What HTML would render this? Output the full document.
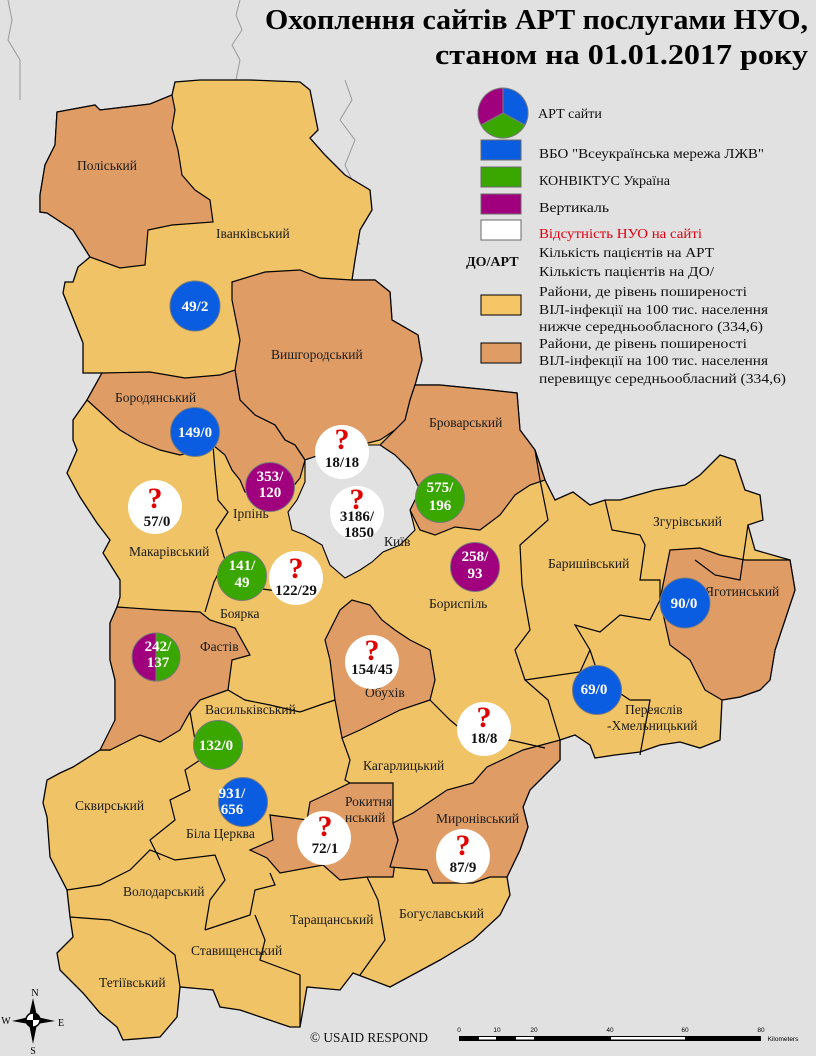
<!DOCTYPE html>
<html><head><meta charset="utf-8"><style>
html,body{margin:0;padding:0;background:#e1e1e1;}
svg{display:block;}
.d{font-family:"Liberation Serif",serif;font-size:13.5px;fill:#1a1a1a;}
.lg{font-family:"Liberation Serif",serif;font-size:14px;fill:#111;}
.cw{font-family:"Liberation Serif",serif;font-size:15px;font-weight:bold;fill:#fff;text-anchor:middle;}
.cb{font-family:"Liberation Serif",serif;font-size:15px;font-weight:bold;fill:#111;text-anchor:middle;}
.q{font-family:"Liberation Serif",serif;font-size:30px;font-weight:bold;fill:#e00000;text-anchor:middle;}
.b{fill:none;stroke:#000;stroke-width:1.2;}
</style></head><body>
<svg width="816" height="1056" viewBox="0 0 816 1056" xmlns="http://www.w3.org/2000/svg">
<rect width="816" height="1056" fill="#e1e1e1"/>
<polyline points="8,0 12,20 8,40 20,60 20,100" fill="none" stroke="#999" stroke-width="1"/>
<polyline points="240,0 236,15 242,30 232,45 240,60 236,80" fill="none" stroke="#999" stroke-width="1"/>
<polyline points="345,80 352,100 340,120 355,140 345,165 352,180 340,200 360,245" fill="none" stroke="#999" stroke-width="1"/>
<polygon fill="#f0c466" stroke="#000" stroke-width="1.3" points="40,195 45,165 55,145 57,112 95,105 100,110 150,104 172,95 175,82 200,80 250,80 300,82 310,90 318,130 310,138 325,155 345,175 370,190 372,210 360,230 355,260 352,280 375,280 390,292 392,320 418,335 422,360 415,385 440,385 490,390 517,393 520,430 535,450 545,480 555,500 573,492 590,505 605,500 620,500 655,490 685,485 700,475 720,455 735,460 745,490 760,495 763,520 748,525 755,550 790,560 795,590 785,620 775,650 770,680 760,690 740,697 722,700 720,740 700,748 680,742 660,745 640,752 615,755 595,758 590,745 575,735 560,740 560,760 530,790 523,807 528,827 520,850 507,877 510,895 500,915 473,940 440,960 390,987 353,973 340,990 307,987 300,1027 290,1027 240,1010 220,1007 213,990 180,987 177,1017 160,1037 123,1040 117,1027 100,1013 83,993 60,970 57,953 73,937 70,917 67,890 50,857 47,817 43,803 47,780 60,773 73,767 100,750 110,750 115,720 115,680 110,660 110,623 117,607 120,597 120,580 103,553 110,540 97,523 80,497 67,473 77,450 73,440 73,420 87,400 102,373 83,373 83,343 63,293 65,282 73,282 78,267 90,257 73,230 47,213 40,212"/>
<g fill="#df9d65" stroke="#000" stroke-width="1.2">
<polygon points="40,212 47,213 73,230 90,257 120,268 145,265 148,230 172,225 213,222 210,200 195,190 182,175 178,150 172,128 175,110 172,95 150,104 100,110 95,105 57,112 55,145 45,165 40,195"/>
<polygon points="232,282 265,272 300,270 320,278 352,280 375,280 390,292 392,320 418,335 422,360 415,385 410,400 405,420 395,430 380,440 360,445 340,460 320,455 305,460 295,445 285,440 275,425 255,415 240,400 235,370 240,340 232,300"/>
<polygon points="102,373 150,372 185,378 220,375 235,370 240,400 255,415 275,425 285,440 295,445 305,460 300,478 292,488 280,493 262,497 245,492 240,480 232,470 225,455 213,445 200,450 180,455 160,450 140,442 120,430 87,400"/>
<polygon points="415,385 440,385 490,390 517,393 520,430 535,450 545,480 530,485 515,495 500,515 480,530 455,527 435,535 420,530 410,510 420,490 410,470 395,455 380,445 395,430 405,420 410,400"/>
<polygon points="117,607 160,610 200,612 210,620 235,628 250,655 232,660 228,690 200,700 190,712 180,730 160,742 140,735 110,750 100,750 115,720 115,680 110,660 110,623"/>
<polygon points="340,610 352,600 370,605 382,620 395,630 410,640 430,650 435,680 430,700 400,710 380,720 360,730 342,738 335,700 330,660 325,640"/>
<polygon points="670,550 700,548 720,555 745,560 790,560 795,590 785,620 775,650 770,680 760,690 740,697 722,700 705,690 690,660 670,645 660,600"/>
<polygon points="270,815 307,820 310,802 325,795 350,783 393,783 393,823 398,840 393,877 367,877 340,880 323,865 280,873 267,858 250,850 273,840"/>
<polygon points="393,823 413,813 447,790 473,783 487,767 523,750 560,740 560,760 530,790 523,807 528,827 520,850 507,877 490,877 473,883 433,883 427,870 390,867 398,840"/>
</g>
<polygon fill="#e1e1e1" stroke="#000" stroke-width="1.1" points="305,460 320,455 340,462 360,445 380,445 395,455 410,470 420,490 410,510 415,530 400,545 383,552 372,562 360,570 345,578 330,565 322,545 305,535 292,530 288,512 297,500 305,482"/>
<g class="b">
<polyline points="213,445 215,470 218,500 228,512 216,530 225,560 214,582 205,612"/>
<polyline points="228,560 255,588 285,592 300,600 300,560"/>
<polyline points="228,690 245,700 270,705 300,712 320,705 335,700"/>
<polyline points="190,712 195,740 200,760 185,770 190,790 170,800 175,820 150,840 160,860"/>
<polyline points="67,890 100,885 130,870 150,850 175,860 215,855 225,880 210,900 205,930"/>
<polyline points="70,917 110,920 150,935 175,955 180,987"/>
<polyline points="205,930 250,915 255,890 275,885 270,873"/>
<polyline points="255,915 265,940 260,960 300,975 300,1027"/>
<polyline points="367,877 378,900 385,940 360,975"/>
<polyline points="342,738 350,760 345,780 350,783"/>
<polyline points="430,700 450,720 480,745 510,740 545,748"/>
<polyline points="535,450 540,480 548,520 520,545 522,585 530,630 515,650 525,680 548,700 560,740"/>
<polyline points="525,680 580,672 590,650 575,625 600,632 620,615 650,620 660,600 660,580 640,580 645,545 640,535 612,530 605,500"/>
<polyline points="695,560 715,575 740,580 748,525"/>
<polyline points="590,650 600,680 630,700 650,700 640,755"/>
</g>
<g class="d">
<text x="77" y="170">Поліський</text>
<text x="216" y="238">Іванківський</text>
<text x="271" y="359">Вишгородський</text>
<text x="115" y="402">Бородянський</text>
<text x="429" y="427">Броварський</text>
<text x="233" y="518">Ірпінь</text>
<text x="129" y="556">Макарівський</text>
<text x="384" y="546">Київ</text>
<text x="548" y="568">Баришівський</text>
<text x="653" y="526">Згурівський</text>
<text x="705" y="596">Яготинський</text>
<text x="429" y="608">Бориспіль</text>
<text x="220" y="618">Боярка</text>
<text x="200" y="651">Фастів</text>
<text x="365" y="697">Обухів</text>
<text x="205" y="714">Васильківський</text>
<text x="625" y="714">Переяслів</text>
<text x="607" y="730">-Хмельницький</text>
<text x="363" y="770">Кагарлицький</text>
<text x="345" y="806">Рокитня</text>
<text x="345" y="822">нський</text>
<text x="436" y="823">Миронівський</text>
<text x="75" y="810">Сквирський</text>
<text x="186" y="838">Біла Церква</text>
<text x="123" y="896">Володарський</text>
<text x="290" y="924">Таращанський</text>
<text x="399" y="918">Богуславський</text>
<text x="191" y="955">Ставищенський</text>
<text x="99" y="987">Тетіївський</text>
</g>
<g stroke="#7a7a7a" stroke-width="1">
<circle cx="195" cy="306" r="25" fill="#0a5ce0"/>
<circle cx="195" cy="432" r="24.5" fill="#0a5ce0"/>
<circle cx="270" cy="487" r="24.5" fill="#a0007e"/>
<circle cx="440" cy="498" r="24.5" fill="#3aa600"/>
<circle cx="475" cy="567" r="24.5" fill="#a0007e"/>
<circle cx="242" cy="576" r="24.5" fill="#3aa600"/>
<circle cx="685" cy="603" r="25" fill="#0a5ce0"/>
<circle cx="597" cy="690" r="24.5" fill="#0a5ce0"/>
<circle cx="218" cy="745" r="24.5" fill="#3aa600"/>
<circle cx="243" cy="802" r="24.5" fill="#0a5ce0"/>
<path d="M156,633 A24,24 0 0 0 156,681 Z" fill="#a0007e"/>
<path d="M156,633 A24,24 0 0 1 156,681 Z" fill="#3aa600"/>
</g>
<g fill="#fff">
<circle cx="155" cy="507" r="27"/>
<circle cx="342" cy="452" r="27"/>
<circle cx="357" cy="513" r="27"/>
<circle cx="296" cy="578" r="27"/>
<circle cx="372" cy="662" r="27"/>
<circle cx="484" cy="729" r="27"/>
<circle cx="324" cy="838" r="27"/>
<circle cx="463" cy="856" r="27"/>
</g>
<text class="cw" x="195" y="311">49/2</text>
<text class="cw" x="195" y="437">149/0</text>
<text class="cw" x="270" y="481">353/</text><text class="cw" x="270" y="497">120</text>
<text class="cw" x="440" y="492">575/</text><text class="cw" x="440" y="510">196</text>
<text class="cw" x="475" y="561">258/</text><text class="cw" x="475" y="578">93</text>
<text class="cw" x="242" y="570">141/</text><text class="cw" x="242" y="587">49</text>
<text class="cw" x="158" y="651">242/</text><text class="cw" x="158" y="667">137</text>
<text class="cw" x="684" y="608">90/0</text>
<text class="cw" x="594" y="694">69/0</text>
<text class="cw" x="216" y="750">132/0</text>
<text class="cw" x="232" y="798">931/</text><text class="cw" x="232" y="814">656</text>
<text class="q" x="155" y="508">?</text><text class="cb" x="157" y="526">57/0</text>
<text class="q" x="342" y="449">?</text><text class="cb" x="342" y="467">18/18</text>
<text class="q" x="357" y="509">?</text><text class="cb" x="357" y="521">3186/</text><text class="cb" x="359" y="537">1850</text>
<text class="q" x="296" y="578">?</text><text class="cb" x="296" y="595">122/29</text>
<text class="q" x="372" y="660">?</text><text class="cb" x="372" y="674">154/45</text>
<text class="q" x="484" y="727">?</text><text class="cb" x="484" y="743">18/8</text>
<text class="q" x="325" y="836">?</text><text class="cb" x="325" y="853">72/1</text>
<text class="q" x="463" y="855">?</text><text class="cb" x="463" y="872">87/9</text>
<text x="808" y="29" text-anchor="end" font-family="Liberation Serif,serif" font-weight="bold" font-size="29" textLength="543" lengthAdjust="spacingAndGlyphs">Охоплення сайтів АРТ послугами НУО,</text>
<text x="808" y="64" text-anchor="end" font-family="Liberation Serif,serif" font-weight="bold" font-size="29" textLength="373" lengthAdjust="spacingAndGlyphs">станом на 01.01.2017 року</text>
<g stroke="#7a7a7a" stroke-width="1">
<path d="M503,113 L503,88 A25,25 0 0 1 525,125 Z" fill="#0a5ce0"/>
<path d="M503,113 L525,125 A25,25 0 0 1 481,125 Z" fill="#3aa600"/>
<path d="M503,113 L481,125 A25,25 0 0 1 503,88 Z" fill="#a0007e"/>
</g>
<g stroke="#6a6a6a" stroke-width="1">
<rect x="481" y="140" width="40" height="20" fill="#0a5ce0"/>
<rect x="481" y="167" width="40" height="20" fill="#3aa600"/>
<rect x="481" y="194" width="40" height="20" fill="#a0007e"/>
<rect x="481" y="220" width="40" height="20" fill="#fff"/>
</g>
<rect x="481" y="295" width="40" height="20" fill="#f5c566" stroke="#000"/>
<rect x="481" y="343" width="40" height="20" fill="#df9d65" stroke="#000"/>
<g class="lg">
<text x="538" y="118">АРТ сайти</text>
<text x="539" y="158" textLength="225" lengthAdjust="spacingAndGlyphs">ВБО "Всеукраїнська мережа ЛЖВ"</text>
<text x="539" y="185" textLength="131" lengthAdjust="spacingAndGlyphs">КОНВІКТУС Україна</text>
<text x="539" y="212" textLength="70" lengthAdjust="spacingAndGlyphs">Вертикаль</text>
<text x="539" y="238" style="fill:#e00010" textLength="163" lengthAdjust="spacingAndGlyphs">Відсутність НУО на сайті</text>
<text x="539" y="257" textLength="175" lengthAdjust="spacingAndGlyphs">Кількість пацієнтів на АРТ</text>
<text x="539" y="276" textLength="175" lengthAdjust="spacingAndGlyphs">Кількість пацієнтів на ДО/</text>
<text x="539" y="296" textLength="208" lengthAdjust="spacingAndGlyphs">Райони, де рівень поширеності</text>
<text x="539" y="314" textLength="229" lengthAdjust="spacingAndGlyphs">ВІЛ-інфекції на 100 тис. населення</text>
<text x="539" y="331" textLength="224" lengthAdjust="spacingAndGlyphs">нижче середньообласного (334,6)</text>
<text x="539" y="348" textLength="208" lengthAdjust="spacingAndGlyphs">Райони, де рівень поширеності</text>
<text x="539" y="365" textLength="229" lengthAdjust="spacingAndGlyphs">ВІЛ-інфекції на 100 тис. населення</text>
<text x="539" y="383" textLength="247" lengthAdjust="spacingAndGlyphs">перевищує середньообласний (334,6)</text>
</g>
<text x="466" y="266" font-family="Liberation Serif,serif" font-weight="bold" font-size="14" fill="#111">ДО/АРТ</text>
<g>
<polygon points="33,998 37,1016 33,1020 29,1016" fill="#000"/>
<polygon points="33,1044 37,1024 33,1020 29,1024" fill="#000"/>
<polygon points="12,1021 29,1017 33,1020 29,1024" fill="#000"/>
<polygon points="55,1021 37,1017 33,1020 37,1024" fill="#000"/>
<circle cx="33" cy="1020" r="7" fill="#fff" stroke="#000" stroke-width="1.5"/>
<path d="M33,1013 A7,7 0 0 1 40,1020 L33,1020 Z M33,1027 A7,7 0 0 1 26,1020 L33,1020 Z" fill="#000"/>
<g font-family="Liberation Serif,serif" font-size="10" fill="#000" text-anchor="middle">
<text x="35" y="996">N</text><text x="33" y="1054">S</text><text x="6" y="1024">W</text><text x="61" y="1026">E</text></g>
</g>
<text x="310" y="1042" font-family="Liberation Serif,serif" font-size="14" fill="#111" textLength="118" lengthAdjust="spacingAndGlyphs">© USAID RESPOND</text>
<rect x="459" y="1036" width="302" height="5" fill="#000"/>
<rect x="479" y="1037" width="17" height="2.5" fill="#fff"/>
<rect x="516" y="1037" width="18" height="2.5" fill="#fff"/>
<rect x="611" y="1037" width="74" height="2.5" fill="#fff"/>
<g font-family="Liberation Sans,sans-serif" font-size="6.5" fill="#000" text-anchor="middle">
<text x="459" y="1032">0</text><text x="497" y="1032">10</text><text x="534" y="1032">20</text><text x="610" y="1032">40</text><text x="685" y="1032">60</text><text x="761" y="1032">80</text>
<text x="783" y="1041">Kilometers</text></g>
</svg>
</body></html>
